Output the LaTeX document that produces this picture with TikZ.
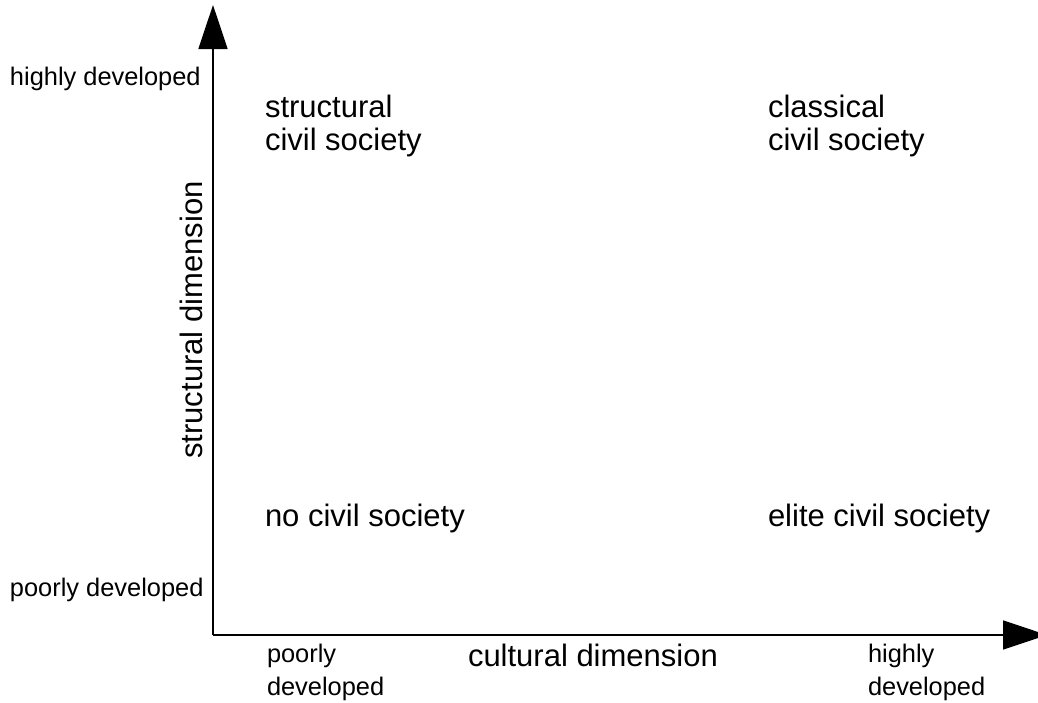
\documentclass[tikz,border=0pt]{standalone}
\usepackage{fontspec}
\setmainfont{Liberation Sans}
\usetikzlibrary{arrows.meta}

\begin{document}
\begin{tikzpicture}[x=0.5pt, y=-0.5pt, >={Triangle[length=22pt, width=14.5pt]},
  every node/.style={inner sep=0pt, outer sep=0pt},
  small/.style={font=\fontsize{12.7}{16.5}\selectfont, align=left, anchor=base west},
  big/.style={font=\fontsize{15.5}{16.5}\selectfont, align=left, anchor=base west}]
  \useasboundingbox (0,0) rectangle (1038,702);
  \coordinate (origin) at (213,635);
  \coordinate (ytip) at (213,5);
  \coordinate (xtip) at (1047,635);
  \draw[line width=0.8pt, ->] (origin) -- (ytip);
  \draw[line width=0.8pt, ->] (origin) -- (xtip);
  % axis labels
  \node[big, rotate=90, anchor=base] (ylabel) at (202,320) {structural dimension};
  \node[big] (xlabel) at (468,666) {cultural dimension};
  \node[small] (yhigh) at (10,85) {highly developed};
  \node[small] (ylow) at (10,596) {poorly developed};
  \node[small] (xlow) at (267,695) {poorly\\developed};
  \node[small] (xhigh) at (868,695) {highly\\developed};
  % quadrants
  \node[big] (structCS) at (265,150) {structural\\civil society};
  \node[big] (classCS) at (768,150) {classical\\civil society};
  \node[big] (noCS) at (265,526) {no civil society};
  \node[big] (eliteCS) at (768,526) {elite civil society};
\end{tikzpicture}
\end{document}
